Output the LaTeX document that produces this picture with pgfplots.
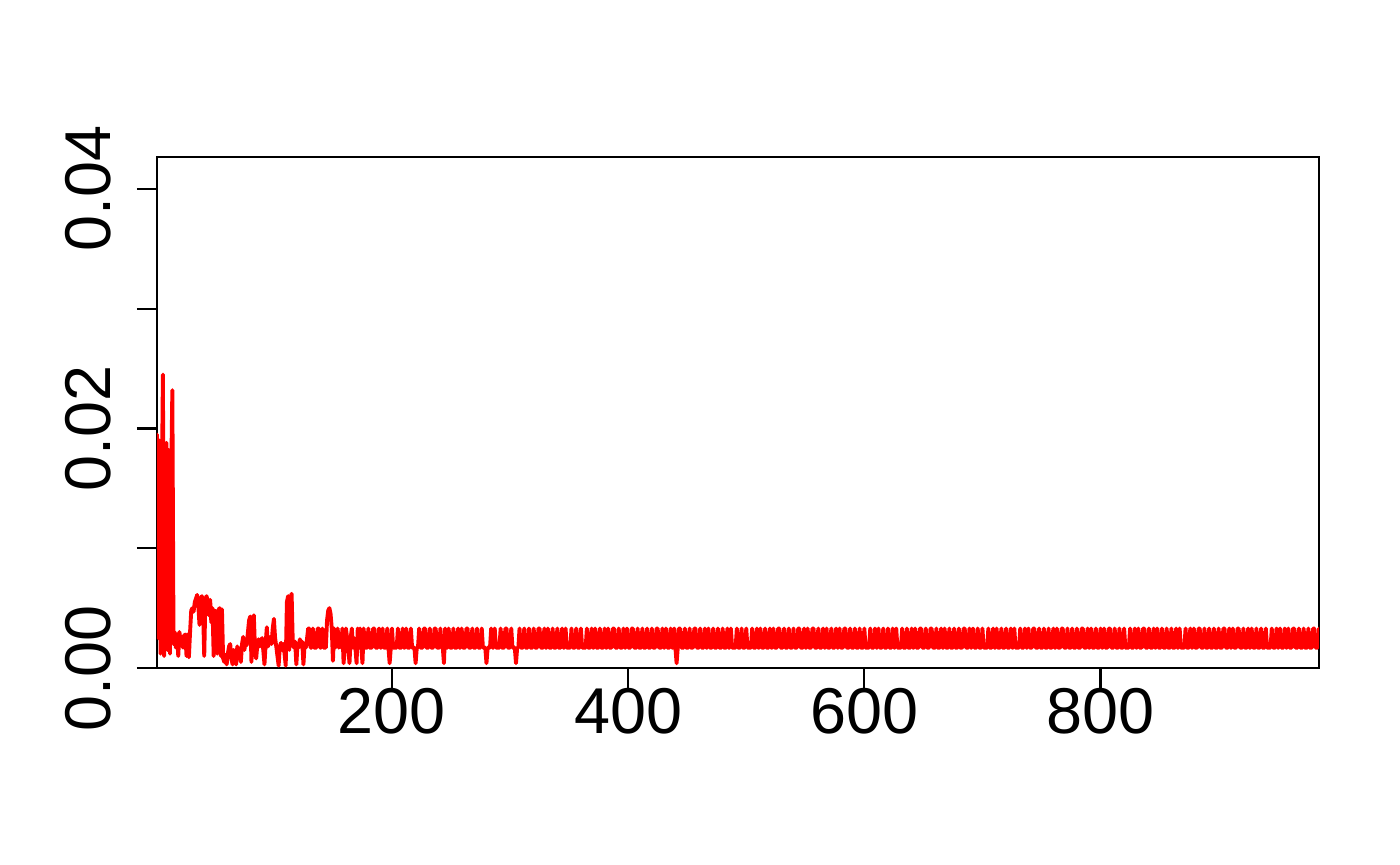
\documentclass[border=0pt]{standalone}
\usepackage{fontspec}
\setmainfont{Liberation Sans}
\usepackage{pgfplots}
\usepackage{pgfplotstable}
\pgfplotsset{compat=1.18}

% one value per step (steps 1..985)
\pgfplotstableread[row sep=\\, header=false]{
0.0195\\0.0025\\0.0190\\0.0012\\0.0140\\0.0245\\0.0010\\0.0185\\0.0188\\0.0015\\
0.0182\\0.0012\\0.0160\\0.0232\\0.0020\\0.0030\\0.0017\\0.0028\\0.0010\\0.0030\\
0.0022\\0.0026\\0.0017\\0.0027\\0.0028\\0.0010\\0.0028\\0.0009\\0.0030\\0.0048\\
0.0050\\0.0047\\0.0055\\0.0058\\0.0061\\0.0052\\0.0036\\0.0058\\0.0060\\0.0049\\
0.0010\\0.0058\\0.0060\\0.0054\\0.0044\\0.0057\\0.0038\\0.0050\\0.0010\\0.0048\\
0.0046\\0.0012\\0.0048\\0.0050\\0.0010\\0.0049\\0.0008\\
0.0005\\0.0011\\0.0003\\0.0012\\0.0018\\0.0020\\0.0008\\0.0003\\0.0015\\0.0012\\
0.0003\\0.0018\\0.0010\\0.0016\\0.0005\\0.0020\\0.0026\\0.0015\\0.0022\\0.0019\\
0.0030\\0.0040\\0.0043\\0.0005\\0.0038\\0.0044\\0.0015\\0.0008\\
0.0020\\0.0024\\0.0018\\0.0022\\0.0025\\0.0015\\0.0003\\0.0020\\0.0034\\0.0018\\
0.0022\\0.0026\\0.0020\\0.0033\\0.0041\\0.0025\\0.0018\\0.0010\\0.0002\\0.0018\\
0.0021\\0.0015\\0.0020\\0.0012\\0.0002\\0.0055\\0.0060\\0.0015\\0.0058\\0.0062\\
0.0020\\0.0017\\0.0022\\0.0003\\0.0020\\0.0017\\0.0024\\0.0018\\0.0022\\0.0003\\
0.0020\\0.0017\\0.0024\\
0.0033\\0.0033\\0.0017\\0.0017\\0.0033\\0.0017\\0.0017\\0.0017\\0.0033\\0.0033\\
0.0017\\0.0017\\0.0033\\0.0017\\0.0017\\0.0017\\0.0040\\0.0048\\0.0050\\0.0045\\
0.0033\\0.0006\\0.0033\\0.0017\\0.0025\\0.0033\\0.0017\\0.0028\\0.0017\\0.0033\\
0.0004\\0.0017\\0.0033\\0.0025\\0.0017\\0.0004\\0.0025\\0.0033\\0.0017\\0.0025\\
0.0017\\0.0004\\0.0033\\0.0017\\0.0033\\0.0017\\0.0004\\
0.0033\\0.0017\\0.0017\\0.0017\\0.0033\\0.0017\\0.0017\\0.0017\\0.0033\\0.0033\\0.0017\\0.0017\\0.0017\\0.0033\\0.0017\\0.0017\\0.0033\\0.0017\\0.0017\\0.0017\\
0.0033\\0.0017\\0.0004\\0.0017\\0.0033\\0.0017\\0.0017\\0.0017\\0.0017\\0.0033\\0.0017\\0.0017\\0.0017\\0.0033\\0.0017\\0.0017\\0.0033\\0.0017\\0.0017\\0.0017\\
0.0033\\0.0017\\0.0017\\0.0017\\0.0004\\0.0017\\0.0017\\0.0033\\0.0017\\0.0017\\0.0017\\0.0033\\0.0033\\0.0017\\0.0017\\0.0017\\0.0033\\0.0017\\0.0017\\0.0017\\
0.0033\\0.0033\\0.0017\\0.0017\\0.0017\\0.0033\\0.0017\\0.0017\\0.0004\\0.0033\\0.0017\\0.0017\\0.0033\\0.0017\\0.0017\\0.0017\\0.0033\\0.0017\\0.0017\\0.0017\\
0.0033\\0.0017\\0.0017\\0.0033\\0.0017\\0.0017\\0.0017\\0.0033\\0.0033\\0.0017\\0.0017\\0.0017\\0.0033\\0.0017\\0.0017\\0.0017\\0.0033\\0.0017\\0.0017\\0.0017\\
0.0033\\0.0017\\0.0017\\0.0017\\0.0004\\0.0017\\0.0017\\0.0017\\0.0033\\0.0017\\0.0017\\0.0033\\0.0017\\0.0017\\0.0017\\0.0017\\0.0033\\0.0017\\0.0017\\0.0017\\
0.0033\\0.0033\\0.0017\\0.0017\\0.0017\\0.0033\\0.0017\\0.0017\\0.0017\\0.0004\\0.0017\\0.0017\\0.0033\\0.0017\\0.0017\\0.0017\\0.0033\\0.0017\\0.0017\\0.0017\\
0.0033\\0.0017\\0.0017\\0.0017\\0.0033\\0.0017\\0.0017\\0.0017\\0.0033\\0.0033\\0.0017\\0.0017\\0.0017\\0.0033\\0.0017\\0.0017\\0.0033\\0.0017\\0.0017\\0.0017\\
0.0033\\0.0017\\0.0017\\0.0017\\0.0033\\0.0017\\0.0017\\0.0017\\0.0033\\0.0017\\0.0017\\0.0033\\0.0017\\0.0017\\0.0017\\0.0017\\0.0033\\0.0017\\0.0017\\0.0017\\
0.0033\\0.0017\\0.0017\\0.0017\\0.0033\\0.0017\\0.0017\\0.0017\\0.0017\\0.0033\\0.0017\\0.0017\\0.0017\\0.0033\\0.0017\\0.0017\\0.0033\\0.0017\\0.0017\\0.0017\\
0.0033\\0.0017\\0.0017\\0.0017\\0.0033\\0.0017\\0.0017\\0.0033\\0.0017\\0.0017\\0.0017\\0.0033\\0.0033\\0.0017\\0.0017\\0.0017\\0.0033\\0.0017\\0.0017\\0.0017\\
0.0033\\0.0017\\0.0017\\0.0033\\0.0017\\0.0017\\0.0017\\0.0033\\0.0033\\0.0017\\0.0017\\0.0017\\0.0033\\0.0017\\0.0017\\0.0017\\0.0033\\0.0017\\0.0017\\0.0017\\
0.0033\\0.0017\\0.0017\\0.0017\\0.0033\\0.0017\\0.0017\\0.0017\\0.0033\\0.0033\\0.0017\\0.0017\\0.0017\\0.0033\\0.0017\\0.0017\\0.0033\\0.0017\\0.0017\\0.0017\\
0.0033\\0.0017\\0.0017\\0.0033\\0.0017\\0.0004\\0.0017\\0.0033\\0.0033\\0.0017\\0.0017\\0.0017\\0.0033\\0.0017\\0.0017\\0.0017\\0.0033\\0.0017\\0.0017\\0.0017\\
0.0033\\0.0033\\0.0017\\0.0017\\0.0017\\0.0033\\0.0017\\0.0017\\0.0017\\0.0033\\0.0017\\0.0017\\0.0033\\0.0017\\0.0017\\0.0017\\0.0033\\0.0017\\0.0017\\0.0017\\
0.0033\\0.0017\\0.0017\\0.0017\\0.0033\\0.0017\\0.0017\\0.0017\\0.0033\\0.0017\\0.0017\\0.0033\\0.0017\\0.0017\\0.0017\\0.0017\\0.0033\\0.0017\\0.0017\\0.0017\\
0.0033\\0.0017\\0.0017\\0.0017\\0.0033\\0.0017\\0.0017\\0.0017\\0.0017\\0.0033\\0.0017\\0.0017\\0.0017\\0.0033\\0.0017\\0.0017\\0.0033\\0.0017\\0.0017\\0.0017\\
0.0033\\0.0017\\0.0017\\0.0017\\0.0033\\0.0017\\0.0017\\0.0033\\0.0017\\0.0017\\0.0017\\0.0033\\0.0033\\0.0017\\0.0017\\0.0017\\0.0033\\0.0017\\0.0017\\0.0017\\
0.0033\\0.0017\\0.0017\\0.0017\\0.0033\\0.0017\\0.0017\\0.0017\\0.0033\\0.0033\\0.0017\\0.0017\\0.0017\\0.0033\\0.0017\\0.0017\\0.0033\\0.0017\\0.0017\\0.0017\\
0.0033\\0.0033\\0.0017\\0.0017\\0.0017\\0.0033\\0.0017\\0.0017\\0.0017\\0.0033\\0.0017\\0.0017\\0.0033\\0.0017\\0.0017\\0.0017\\0.0033\\0.0017\\0.0017\\0.0017\\
0.0033\\0.0017\\0.0017\\0.0033\\0.0017\\0.0017\\0.0017\\0.0033\\0.0033\\0.0017\\0.0017\\0.0017\\0.0033\\0.0017\\0.0017\\0.0017\\0.0033\\0.0017\\0.0017\\0.0017\\
0.0033\\0.0017\\0.0017\\0.0017\\0.0033\\0.0017\\0.0017\\0.0017\\0.0017\\0.0033\\0.0017\\0.0017\\0.0017\\0.0033\\0.0017\\0.0017\\0.0033\\0.0017\\0.0017\\0.0017\\
0.0033\\0.0017\\0.0017\\0.0017\\0.0033\\0.0017\\0.0017\\0.0017\\0.0033\\0.0017\\0.0017\\0.0033\\0.0017\\0.0017\\0.0017\\0.0017\\0.0033\\0.0017\\0.0017\\0.0017\\
0.0033\\0.0017\\0.0017\\0.0017\\0.0033\\0.0017\\0.0017\\0.0033\\0.0017\\0.0017\\0.0017\\0.0033\\0.0033\\0.0017\\0.0017\\0.0017\\0.0033\\0.0017\\0.0017\\0.0017\\
0.0033\\0.0033\\0.0017\\0.0017\\0.0017\\0.0033\\0.0017\\0.0017\\0.0017\\0.0033\\0.0017\\0.0017\\0.0033\\0.0017\\0.0017\\0.0017\\0.0033\\0.0017\\0.0017\\0.0017\\
0.0033\\0.0017\\0.0017\\0.0017\\0.0033\\0.0017\\0.0017\\0.0017\\0.0033\\0.0033\\0.0017\\0.0017\\0.0017\\0.0033\\0.0017\\0.0017\\0.0033\\0.0017\\0.0017\\0.0017\\
0.0033\\0.0017\\0.0017\\0.0017\\0.0033\\0.0017\\0.0017\\0.0017\\0.0017\\0.0033\\0.0017\\0.0017\\0.0017\\0.0033\\0.0017\\0.0017\\0.0033\\0.0017\\0.0017\\0.0017\\
0.0033\\0.0017\\0.0017\\0.0017\\0.0033\\0.0017\\0.0017\\0.0017\\0.0033\\0.0017\\0.0017\\0.0033\\0.0017\\0.0017\\0.0017\\0.0017\\0.0033\\0.0017\\0.0017\\0.0017\\
0.0033\\0.0017\\0.0017\\0.0033\\0.0017\\0.0017\\0.0017\\0.0033\\0.0033\\0.0017\\0.0017\\0.0017\\0.0033\\0.0017\\0.0017\\0.0017\\0.0033\\0.0017\\0.0017\\0.0017\\
0.0033\\0.0017\\0.0017\\0.0017\\0.0033\\0.0017\\0.0017\\0.0033\\0.0017\\0.0017\\0.0017\\0.0033\\0.0033\\0.0017\\0.0017\\0.0017\\0.0033\\0.0017\\0.0017\\0.0017\\
0.0033\\0.0017\\0.0017\\0.0017\\0.0033\\0.0017\\0.0017\\0.0017\\0.0033\\0.0033\\0.0017\\0.0017\\0.0017\\0.0033\\0.0017\\0.0017\\0.0033\\0.0017\\0.0017\\0.0017\\
0.0033\\0.0017\\0.0017\\0.0017\\0.0033\\0.0017\\0.0017\\0.0033\\0.0017\\0.0017\\0.0017\\0.0033\\0.0033\\0.0017\\0.0017\\0.0017\\0.0033\\0.0017\\0.0017\\0.0017\\
0.0033\\0.0017\\0.0017\\0.0017\\0.0033\\0.0017\\0.0017\\0.0017\\0.0017\\0.0033\\0.0017\\0.0017\\0.0017\\0.0033\\0.0017\\0.0017\\0.0033\\0.0017\\0.0017\\0.0017\\
0.0033\\0.0033\\0.0017\\0.0017\\0.0017\\0.0033\\0.0017\\0.0017\\0.0017\\0.0033\\0.0017\\0.0017\\0.0033\\0.0017\\0.0017\\0.0017\\0.0033\\0.0017\\0.0017\\0.0017\\
0.0033\\0.0017\\0.0017\\0.0017\\0.0033\\0.0017\\0.0017\\0.0017\\0.0033\\0.0017\\0.0017\\0.0033\\0.0017\\0.0017\\0.0017\\0.0017\\0.0033\\0.0017\\0.0017\\0.0017\\
0.0033\\0.0017\\0.0017\\0.0033\\0.0017\\0.0017\\0.0017\\0.0033\\0.0033\\0.0017\\0.0017\\0.0017\\0.0033\\0.0017\\0.0017\\0.0017\\0.0033\\0.0017\\0.0017\\0.0017\\
0.0033\\0.0017\\0.0017\\0.0017\\0.0033\\0.0017\\0.0017\\0.0017\\0.0033\\0.0033\\0.0017\\0.0017\\0.0017\\0.0033\\0.0017\\0.0017\\0.0033\\0.0017\\0.0017\\0.0017\\
0.0033\\0.0033\\0.0017\\0.0017\\0.0017\\0.0033\\0.0017\\0.0017\\0.0017\\0.0033\\0.0017\\0.0017\\0.0033\\0.0017\\0.0017\\0.0017\\0.0033\\0.0017\\0.0017\\0.0017\\
0.0033\\0.0017\\0.0017\\0.0017\\0.0033\\0.0017\\0.0017\\0.0017\\0.0017\\0.0033\\0.0017\\0.0017\\0.0017\\0.0033\\0.0017\\0.0017\\0.0033\\0.0017\\0.0017\\0.0017\\
0.0033\\0.0017\\0.0017\\0.0033\\0.0017\\0.0017\\0.0017\\0.0033\\0.0033\\0.0017\\0.0017\\0.0017\\0.0033\\0.0017\\0.0017\\0.0017\\0.0033\\0.0017\\0.0017\\0.0017\\
0.0033\\0.0017\\0.0017\\0.0017\\0.0033\\0.0033\\0.0017\\0.0017\\0.0017\\0.0033\\
}\loss

\begin{document}
\begin{tikzpicture}
\useasboundingbox (0,0) rectangle (504bp,311.4bp);
\begin{axis}[
    at={(56.52bp,70.92bp)}, anchor=south west,
    scale only axis,
    width=418.32bp, height=183.96bp,
    xmin=1, xmax=985,
    ymin=0, ymax=0.04267,
    axis line style={line width=0.8bp},
    tick style={line width=0.75bp, black},
    tick align=outside,
    major tick length=7.2bp,
    tick pos=left,
    minor tick num=0,
    scaled y ticks=false,
    xtick={200,400,600,800},
    xticklabels={200,400,600,800},
    ytick={0,0.01,0.02,0.03,0.04},
    yticklabels={0.00,,0.02,,0.04},
    /pgf/number format/assume math mode=true,
    ticklabel style={font=\fontsize{23.4}{28}\selectfont},
    xticklabel style={anchor=north, inner sep=0pt},
    yticklabel style={rotate=90, anchor=south, inner sep=0pt},
    yticklabel shift=9.2bp,
]
\addplot[red, line width=1.4bp, line join=round, line cap=round, mark=none]
    table[x expr=\coordindex+1, y index=0] {\loss};
\end{axis}
\end{tikzpicture}
\end{document}
